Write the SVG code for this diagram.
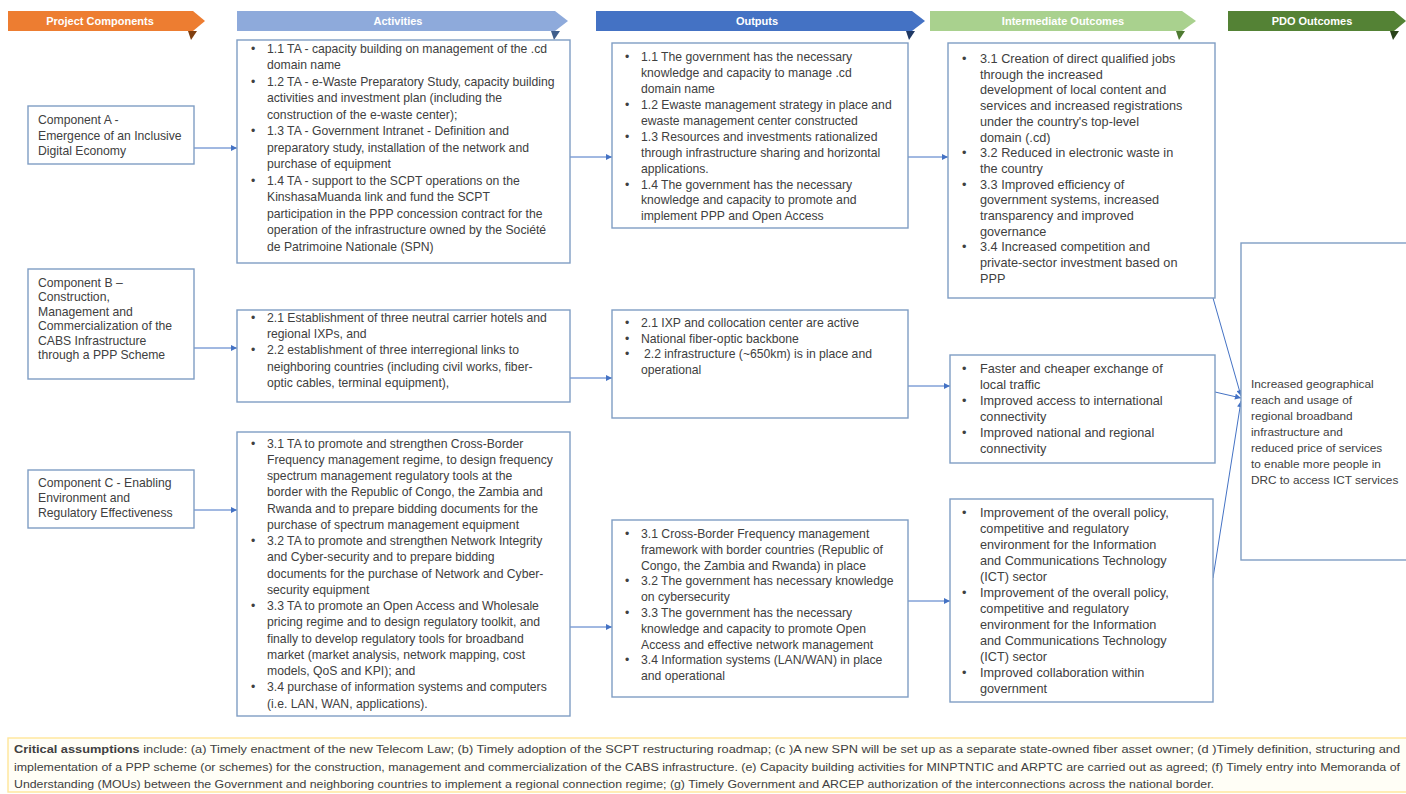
<svg xmlns="http://www.w3.org/2000/svg" width="1406" height="794" viewBox="0 0 1406 794">
<style>
.box{fill:#ffffff;stroke:#7F9DC4;stroke-width:1.4}
.t{font-family:"Liberation Sans",Arial,sans-serif;font-size:12.2px;fill:#404040}
.ti{font-size:12.7px}
.tp{font-size:11.8px}
.h{font-family:"Liberation Sans",Arial,sans-serif;font-size:11px;font-weight:bold;fill:#ffffff;text-anchor:middle}
.c{stroke:#4472C4;stroke-width:1;fill:none;marker-end:url(#arr)}
.ca{font-family:"Liberation Sans",Arial,sans-serif;font-size:10px;fill:#404040}
</style>
<defs>
<marker id="arr" viewBox="0 0 10 10" refX="10" refY="5" markerWidth="7" markerHeight="6" orient="auto" markerUnits="userSpaceOnUse">
<path d="M0,0 L10,5 L0,10 z" fill="#4472C4"/>
</marker>
</defs>
<rect width="1406" height="794" fill="#ffffff"/>

<g id="headers">
<g id="h-components"><polygon points="8,11 193,11 205,21 193,31 8,31" fill="#ED7D31"/><polygon points="188,31 197,31 191,40" fill="#7F3F10"/><text class="h" x="100" y="25">Project Components</text></g>
<g id="h-activities"><polygon points="237,11 555,11 568,21 555,31 237,31" fill="#8EAADB"/><polygon points="551,31 560,31 554,40" fill="#3F5E8C"/><text class="h" x="398" y="25">Activities</text></g>
<g id="h-outputs"><polygon points="596,11 912,11 925,21 912,31 596,31" fill="#4472C4"/><polygon points="906,31 915,31 909,40" fill="#1F3864"/><text class="h" x="757" y="25">Outputs</text></g>
<g id="h-intermediate"><polygon points="930,11 1182,11 1196,21 1182,31 930,31" fill="#A9D18E"/><polygon points="1176,31 1185,31 1179,40" fill="#4E7A31"/><text class="h" x="1063" y="25">Intermediate Outcomes</text></g>
<g id="h-pdo"><polygon points="1228,11 1394,11 1406,21 1394,31 1228,31" fill="#548235"/><polygon points="1390,31 1399,31 1393,40" fill="#2A4219"/><text class="h" x="1312" y="25">PDO Outcomes</text></g>
</g>

<g id="connectors">
<line class="c" x1="194" y1="148" x2="237" y2="148"/>
<line class="c" x1="194" y1="348" x2="237" y2="348"/>
<line class="c" x1="194" y1="510" x2="237" y2="510"/>
<line class="c" x1="570" y1="157" x2="612" y2="157"/>
<line class="c" x1="570" y1="378" x2="612" y2="378"/>
<line class="c" x1="570" y1="627" x2="612" y2="627"/>
<line class="c" x1="908" y1="157" x2="948" y2="157"/>
<line class="c" x1="908" y1="386" x2="950" y2="386"/>
<line class="c" x1="908" y1="601" x2="950" y2="601"/>
<line class="c" x1="1213" y1="298" x2="1241" y2="396"/>
<line class="c" x1="1215" y1="392" x2="1241" y2="398"/>
<line class="c" x1="1213" y1="578" x2="1241" y2="401"/>
</g>

<g id="comp-a"><rect class="box" x="28" y="106" width="166" height="58"/>
<text class="t"><tspan x="38" y="124">Component A -</tspan><tspan x="38" y="139.5">Emergence of an Inclusive</tspan><tspan x="38" y="155">Digital Economy</tspan></text></g>

<g id="comp-b"><rect class="box" x="28" y="269" width="166" height="110"/>
<text class="t"><tspan x="38" y="287">Component B –</tspan><tspan x="38" y="301.4">Construction,</tspan><tspan x="38" y="315.8">Management and</tspan><tspan x="38" y="330.2">Commercialization of the</tspan><tspan x="38" y="344.6">CABS Infrastructure</tspan><tspan x="38" y="359">through a PPP Scheme</tspan></text></g>

<g id="comp-c"><rect class="box" x="28" y="470" width="166" height="58"/>
<text class="t"><tspan x="38" y="487">Component C - Enabling</tspan><tspan x="38" y="502">Environment and</tspan><tspan x="38" y="517">Regulatory Effectiveness</tspan></text></g>

<g id="act-1"><rect class="box" x="237" y="40" width="333" height="223"/>
<text class="t">
<tspan x="251" y="52.5">•</tspan><tspan x="267" y="52.5">1.1 TA - capacity building on management of the .cd</tspan>
<tspan x="267" y="69">domain name</tspan>
<tspan x="251" y="85.5">•</tspan><tspan x="267" y="85.5">1.2 TA - e-Waste Preparatory Study, capacity building</tspan>
<tspan x="267" y="102">activities and investment plan (including the</tspan>
<tspan x="267" y="118.5">construction of the e-waste center);</tspan>
<tspan x="251" y="135">•</tspan><tspan x="267" y="135">1.3 TA - Government Intranet - Definition and</tspan>
<tspan x="267" y="151.5">preparatory study, installation of the network and</tspan>
<tspan x="267" y="168">purchase of equipment</tspan>
<tspan x="251" y="184.5">•</tspan><tspan x="267" y="184.5">1.4 TA - support to the SCPT operations on the</tspan>
<tspan x="267" y="201">KinshasaMuanda link and fund the SCPT</tspan>
<tspan x="267" y="217.5">participation in the PPP concession contract for the</tspan>
<tspan x="267" y="234">operation of the infrastructure owned by the Société</tspan>
<tspan x="267" y="250.5">de Patrimoine Nationale (SPN)</tspan>
</text></g>

<g id="act-2"><rect class="box" x="237" y="310" width="333" height="92"/>
<text class="t">
<tspan x="251" y="322">•</tspan><tspan x="267" y="322">2.1 Establishment of three neutral carrier hotels and</tspan>
<tspan x="267" y="338.2">regional IXPs, and</tspan>
<tspan x="251" y="354.4">•</tspan><tspan x="267" y="354.4">2.2 establishment of three interregional links to</tspan>
<tspan x="267" y="370.6">neighboring countries (including civil works, fiber-</tspan>
<tspan x="267" y="386.8">optic cables, terminal equipment),</tspan>
</text></g>

<g id="act-3"><rect class="box" x="237" y="432" width="333" height="284"/>
<text class="t">
<tspan x="251" y="447.5">•</tspan><tspan x="267" y="447.5">3.1 TA to promote and strengthen Cross-Border</tspan>
<tspan x="267" y="463.75">Frequency management regime, to design frequency</tspan>
<tspan x="267" y="480">spectrum management regulatory tools at the</tspan>
<tspan x="267" y="496.25">border with the Republic of Congo, the Zambia and</tspan>
<tspan x="267" y="512.5">Rwanda and to prepare bidding documents for the</tspan>
<tspan x="267" y="528.75">purchase of spectrum management equipment</tspan>
<tspan x="251" y="545">•</tspan><tspan x="267" y="545">3.2 TA to promote and strengthen Network Integrity</tspan>
<tspan x="267" y="561.25">and Cyber-security and to prepare bidding</tspan>
<tspan x="267" y="577.5">documents for the purchase of Network and Cyber-</tspan>
<tspan x="267" y="593.75">security equipment</tspan>
<tspan x="251" y="610">•</tspan><tspan x="267" y="610">3.3 TA to promote an Open Access and Wholesale</tspan>
<tspan x="267" y="626.25">pricing regime and to design regulatory toolkit, and</tspan>
<tspan x="267" y="642.5">finally to develop regulatory tools for broadband</tspan>
<tspan x="267" y="658.75">market (market analysis, network mapping, cost</tspan>
<tspan x="267" y="675">models, QoS and KPI); and</tspan>
<tspan x="251" y="691.25">•</tspan><tspan x="267" y="691.25">3.4 purchase of information systems and computers</tspan>
<tspan x="267" y="707.5">(i.e. LAN, WAN, applications).</tspan>
</text></g>

<g id="out-1"><rect class="box" x="612" y="43" width="296" height="185"/>
<text class="t">
<tspan x="625" y="61.3">•</tspan><tspan x="641" y="61.3">1.1 The government has the necessary</tspan>
<tspan x="641" y="77.2">knowledge and capacity to manage .cd</tspan>
<tspan x="641" y="93.1">domain name</tspan>
<tspan x="625" y="109">•</tspan><tspan x="641" y="109">1.2 Ewaste management strategy in place and</tspan>
<tspan x="641" y="124.9">ewaste management center constructed</tspan>
<tspan x="625" y="140.8">•</tspan><tspan x="641" y="140.8">1.3 Resources and investments rationalized</tspan>
<tspan x="641" y="156.7">through  infrastructure sharing and horizontal</tspan>
<tspan x="641" y="172.6">applications.</tspan>
<tspan x="625" y="188.5">•</tspan><tspan x="641" y="188.5">1.4 The government has the necessary</tspan>
<tspan x="641" y="204.4">knowledge and capacity to promote and</tspan>
<tspan x="641" y="220.3">implement PPP and Open Access</tspan>
</text></g>

<g id="out-2"><rect class="box" x="612" y="310" width="296" height="108"/>
<text class="t">
<tspan x="625" y="327">•</tspan><tspan x="641" y="327">2.1 IXP and collocation center are active</tspan>
<tspan x="625" y="342.5">•</tspan><tspan x="641" y="342.5">National fiber-optic backbone</tspan>
<tspan x="625" y="358">•</tspan><tspan x="644" y="358">2.2 infrastructure (~650km) is in place and</tspan>
<tspan x="641" y="373.5">operational</tspan>
</text></g>

<g id="out-3"><rect class="box" x="612" y="520" width="296" height="177"/>
<text class="t">
<tspan x="625" y="538">•</tspan><tspan x="641" y="538">3.1 Cross-Border Frequency management</tspan>
<tspan x="641" y="553.8">framework with border countries (Republic of</tspan>
<tspan x="641" y="569.6">Congo, the Zambia and Rwanda) in place</tspan>
<tspan x="625" y="585.4">•</tspan><tspan x="641" y="585.4">3.2 The government has necessary knowledge</tspan>
<tspan x="641" y="601.2">on cybersecurity</tspan>
<tspan x="625" y="617">•</tspan><tspan x="641" y="617">3.3 The government has the necessary</tspan>
<tspan x="641" y="632.8">knowledge and capacity to promote Open</tspan>
<tspan x="641" y="648.6">Access and effective network management</tspan>
<tspan x="625" y="664.4">•</tspan><tspan x="641" y="664.4">3.4 Information systems (LAN/WAN) in place</tspan>
<tspan x="641" y="680.2">and operational</tspan>
</text></g>

<g id="int-1"><rect class="box" x="948" y="43" width="267" height="255"/>
<text class="t ti">
<tspan x="962" y="63">•</tspan><tspan x="980" y="63">3.1 Creation of direct qualified jobs</tspan>
<tspan x="980" y="78.7">through the increased</tspan>
<tspan x="980" y="94.4">development of local content and</tspan>
<tspan x="980" y="110.1">services and increased registrations</tspan>
<tspan x="980" y="125.8">under the country's top-level</tspan>
<tspan x="980" y="141.5">domain (.cd)</tspan>
<tspan x="962" y="157.2">•</tspan><tspan x="980" y="157.2">3.2 Reduced in electronic waste in</tspan>
<tspan x="980" y="172.9">the country</tspan>
<tspan x="962" y="188.6">•</tspan><tspan x="980" y="188.6">3.3 Improved efficiency of</tspan>
<tspan x="980" y="204.3">government systems, increased</tspan>
<tspan x="980" y="220">transparency and improved</tspan>
<tspan x="980" y="235.7">governance</tspan>
<tspan x="962" y="251.4">•</tspan><tspan x="980" y="251.4">3.4 Increased competition and</tspan>
<tspan x="980" y="267.1">private-sector investment based on</tspan>
<tspan x="980" y="282.8">PPP</tspan>
</text></g>

<g id="int-2"><rect class="box" x="950" y="355" width="265" height="108"/>
<text class="t ti">
<tspan x="962" y="373">•</tspan><tspan x="980" y="373">Faster and cheaper exchange of</tspan>
<tspan x="980" y="389">local traffic</tspan>
<tspan x="962" y="405">•</tspan><tspan x="980" y="405">Improved access to international</tspan>
<tspan x="980" y="421">connectivity</tspan>
<tspan x="962" y="437">•</tspan><tspan x="980" y="437">Improved national and regional</tspan>
<tspan x="980" y="453">connectivity</tspan>
</text></g>

<g id="int-3"><rect class="box" x="950" y="499" width="263" height="203"/>
<text class="t ti">
<tspan x="962" y="517">•</tspan><tspan x="980" y="517">Improvement of the overall policy,</tspan>
<tspan x="980" y="533">competitive and regulatory</tspan>
<tspan x="980" y="549">environment for the Information</tspan>
<tspan x="980" y="565">and Communications Technology</tspan>
<tspan x="980" y="581">(ICT) sector</tspan>
<tspan x="962" y="597">•</tspan><tspan x="980" y="597">Improvement of the overall policy,</tspan>
<tspan x="980" y="613">competitive and regulatory</tspan>
<tspan x="980" y="629">environment for the Information</tspan>
<tspan x="980" y="645">and Communications Technology</tspan>
<tspan x="980" y="661">(ICT) sector</tspan>
<tspan x="962" y="677">•</tspan><tspan x="980" y="677">Improved collaboration within</tspan>
<tspan x="980" y="693">government</tspan>
</text></g>

<g id="pdo"><rect class="box" x="1241" y="243" width="175" height="317"/>
<text class="t tp">
<tspan x="1251" y="388">Increased geographical</tspan>
<tspan x="1251" y="404">reach and usage of</tspan>
<tspan x="1251" y="420">regional broadband</tspan>
<tspan x="1251" y="436">infrastructure  and</tspan>
<tspan x="1251" y="452">reduced price of services</tspan>
<tspan x="1251" y="468">to enable more people in</tspan>
<tspan x="1251" y="484">DRC to access ICT services</tspan>
</text></g>

<g id="assumptions"><rect x="8" y="738" width="1410" height="54" fill="#FFFEF6" stroke="#FFE699" stroke-width="1.4"/>
<text class="ca" x="14" y="753" textLength="1386" lengthAdjust="spacingAndGlyphs"><tspan font-weight="bold">Critical assumptions</tspan> include: (a) Timely enactment of the new Telecom Law; (b) Timely adoption of the SCPT restructuring roadmap; (c )A new SPN  will be set up as a separate state-owned fiber asset owner; (d )Timely definition, structuring and</text>
<text class="ca" x="14" y="771" textLength="1386" lengthAdjust="spacingAndGlyphs">implementation of a PPP scheme (or schemes) for the construction, management and commercialization of the CABS infrastructure. (e) Capacity building activities for MINPTNTIC and ARPTC are carried out as agreed; (f) Timely entry into Memoranda of</text>
<text class="ca" x="14" y="788" textLength="1200" lengthAdjust="spacingAndGlyphs">Understanding (MOUs) between the Government and neighboring countries to implement a regional connection regime; (g) Timely Government and ARCEP authorization of the interconnections across the national border.</text>
</g>
</svg>
